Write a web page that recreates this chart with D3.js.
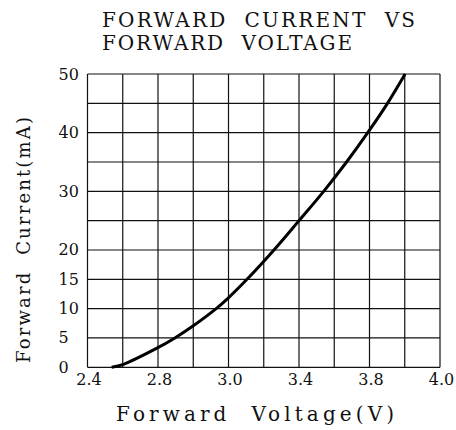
<!DOCTYPE html>
<html>
<head>
<meta charset="utf-8">
<script src="https://cdn.jsdelivr.net/npm/d3@7"></script>
<style>
  body { margin: 0; background: #fff; }
  svg { display: block; }
  text { font-family: "DejaVu Serif", "Liberation Serif", serif; fill: #111; }
</style>
</head>
<body>
<svg width="456" height="430"></svg>
<script>
// curve
const voltage = [2.537, 2.603, 2.794, 2.848, 2.896, 2.965, 2.999, 3.105, 3.258, 3.400, 3.540, 3.670, 3.790, 3.851, 3.901];
const current = [0, 0.5, 3.26, 5, 6.9, 10, 11.8, 15, 20, 25, 30, 35, 40, 45, 50];

// axis labels as printed on the chart (evenly spaced on paper)
const xTickLabels = [2.4, 2.8, 3.0, 3.4, 3.8, 4.0];
const xGridLines = [2.4, 2.6, 2.8, 2.9, 3.0, 3.2, 3.4, 3.6, 3.8, 3.9, 4.0];
const yTickLabels = [0, 5, 10, 15, 20, 30, 40, 50];
const yGridLines = [0, 5, 10, 15, 20, 25, 30, 35, 40, 45, 50];

const svg = d3.select('svg');

const plotLeft = 87.5, plotRight = 440, plotTop = 74, plotBottom = 367.3;

// ticks are evenly spaced, so use a piecewise linear scale
const x = d3.scaleLinear()
    .domain(xTickLabels)
    .range(xTickLabels.map((d, i) => plotLeft + i * (plotRight - plotLeft) / (xTickLabels.length - 1)));
const y = d3.scaleLinear().domain([0, 50]).range([plotBottom, plotTop]);

// grid
svg.append('g').selectAll('line').data(yGridLines).join('line')
    .attr('x1', plotLeft).attr('x2', plotRight)
    .attr('y1', d => y(d)).attr('y2', d => y(d))
    .attr('stroke', '#111').attr('stroke-width', 1.2);
svg.append('g').selectAll('line').data(xGridLines).join('line')
    .attr('x1', d => x(d)).attr('x2', d => x(d))
    .attr('y1', plotTop).attr('y2', plotBottom)
    .attr('stroke', '#111').attr('stroke-width', 1.2);

// tick labels (left aligned on the y side, like the original)
svg.append('g').selectAll('text').data(yTickLabels).join('text')
    .attr('x', 58.5).attr('y', d => y(d) + 5.5)
    .style('font-size', '16px')
    .text(d => d);
svg.append('g').selectAll('text').data(xTickLabels).join('text')
    .attr('x', d => x(d) + 1.5).attr('y', 384.5)
    .attr('text-anchor', 'middle').style('font-size', '16px')
    .text(d => d.toFixed(1));

// curve
const line = d3.line()
    .x((d, i) => x(voltage[i]))
    .y(d => y(d))
    .curve(d3.curveCatmullRom.alpha(0.5));
svg.append('path')
    .datum(current)
    .attr('d', line)
    .attr('fill', 'none').attr('stroke', '#000').attr('stroke-width', 3);

// titles
svg.append('text').attr('x', 102).attr('y', 27)
    .attr('xml:space', 'preserve').style('font-size', '20px')
    .attr('textLength', 313).attr('lengthAdjust', 'spacing')
    .text('FORWARD  CURRENT  VS');
svg.append('text').attr('x', 102).attr('y', 50)
    .attr('xml:space', 'preserve').style('font-size', '20px')
    .attr('textLength', 250).attr('lengthAdjust', 'spacing')
    .text('FORWARD  VOLTAGE');

svg.append('text').attr('x', 116).attr('y', 421)
    .attr('xml:space', 'preserve').style('font-size', '20px')
    .attr('textLength', 278).attr('lengthAdjust', 'spacing')
    .text('Forward  Voltage(V)');
svg.append('text').attr('transform', 'translate(30,363) rotate(-90)')
    .attr('xml:space', 'preserve').style('font-size', '18px')
    .attr('textLength', 246).attr('lengthAdjust', 'spacing')
    .text('Forward  Current(mA)');
</script>
</body>
</html>
